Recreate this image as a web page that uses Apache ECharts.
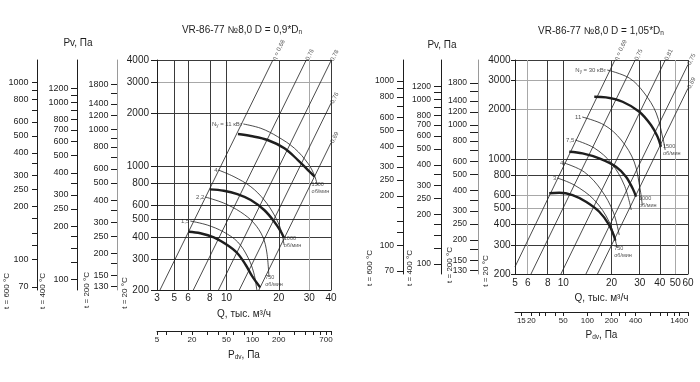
<!DOCTYPE html>
<html><head><meta charset="utf-8">
<script src="https://cdn.jsdelivr.net/npm/echarts@6/dist/echarts.min.js"></script>
<style>html,body{margin:0;padding:0;background:#fff}#c{width:700px;height:382px}</style>
</head><body><div id="c"></div>
<script>
// ---------------- shared scales ----------------
const pressureTicks = [200, 300, 400, 500, 600, 800, 1000, 2000, 3000, 4000];
const pv600Labels = [70, 100, 200, 250, 300, 400, 500, 600, 800, 1000];
const pv600Minor  = [120, 140, 170, 350, 700, 900];
const pv400Labels = [100, 200, 250, 300, 400, 500, 600, 700, 800, 1000, 1200];
const pv400Minor  = [125, 150, 175, 350, 900, 1100];
const pv200Labels = [130, 150, 200, 250, 300, 400, 500, 600, 800, 1000, 1200, 1400, 1800];
const pv200Minor  = [175, 350, 700, 900, 1600];
const densityRatio = [2.98, 2.30, 1.614];           // 600, 400, 200 °C vs 20 °C
const tempNames = ['t = 600 °C', 't = 400 °C', 't = 200 °C', 't = 20 °C'];

// ---------------- left chart: D = 0,9*Dn ----------------
const titleL = 'VR-86-77 №8,0 D = 0,9*D{s|n}';
const qEdgeL = 3.97;                                  // flow at the left border (printed "3")
const qTickPosL = [qEdgeL, 5, 6, 8, 10, 20, 30, 40];
const qLabelsL  = [3, 5, 6, 8, 10, 20, 30, 40];
const pdvEdgeL = 7.9, pdvMaxL = 800;
const pdvLabelPosL = [pdvEdgeL, 20, 50, 100, 200, 700];
const pdvLabelsL   = [5, 20, 50, 100, 200, 700];
const pdvMinorL    = [10, 15, 30, 40, 60, 80, 150, 300, 400, 500, 600];

const etaLabelsL = ['η = 0,68', '0,76', '0,78', '0,76', '0,69'];
const etaStartL  = [[4.13, 200], [6.43, 200], [8.98, 200], [11.84, 200], [15.35, 200]];
const etaEndL    = [[18.5, 4000], [28.8, 4000], [40, 3960], [40, 2280], [40, 1360]];

const rpm1500L = [[11.63,1525],[13.79,1486],[17.24,1411],[21.54,1266],[25.77,1087],[29.46,954],[32.18,875]];
const rpm1000L = [[8.0,742],[9.64,729],[11.54,698],[13.79,646],[16.48,567],[18.84,487],[20.6,427],[21.37,397]];
const rpm750L  = [[6.04,427],[7.06,419],[8.44,397],[10.09,359],[11.54,323],[12.9,277],[14.1,238],[15.62,207]];

const pow11L = [[12.5,1738],[15.77,1643],[19.71,1473],[24.62,1267],[29.46,1041],[32.05,894],[33.37,785]];
const pow4L  = [[8.98,954],[11.03,875],[13.79,768],[16.48,646],[18.84,531],[20.6,437],[21.45,359]];
const pow22L = [[7.55,671],[9.61,621],[12.06,552],[14.35,479],[16.19,399],[17.08,324],[17.55,237]];
const pow15L = [[6.18,491],[7.75,466],[9.61,426],[11.59,374],[13.25,307],[14.35,250],[14.94,200]];
const powNamesL = ['N{s|у} = 11 кВт', '4', '2,2', '1,5'];

// ---------------- right chart: D = 1,05*Dn ----------------
const titleR = 'VR-86-77 №8,0 D = 1,05*D{s|n}';
const qTickPosR = [5, 6, 8, 10, 20, 30, 40, 50, 60];
const qLabelsR  = [5, 6, 8, 10, 20, 30, 40, 50, 60];
const pdvMinR = 12.5, pdvMaxR = 1800;
const pdvLabelsR = [15, 20, 50, 100, 200, 400, 1400];
const pdvMinorR  = [25, 30, 40, 150, 250, 300, 600, 800, 1000, 1200];

const etaLabelsR = ['η = 0,69', '0,75', '0,81', '0,75', '0,69'];
const etaStartR  = [[5, 221], [6.29, 200], [9.67, 200], [13.85, 200], [16.35, 200]];
const etaEndR    = [[21.0, 4000], [28.1, 4000], [43.3, 4000], [60, 3755], [60, 2693]];

const rpm1500R = [[15.61,2392],[18.46,2372],[23.44,2230],[29.8,1939],[35.25,1610],[38.75,1367],[40.69,1188]];
const rpm1000R = [[10.9,1108],[13.19,1083],[16.77,1010],[21.32,898],[24.61,781],[27.06,664],[28.42,590]];
const rpm750R  = [[8.18,620],[9.44,624],[11.43,604],[13.86,550],[16.77,478],[19.36,397],[20.8,337],[21.1,319]];

const pow30R = [[18.81,3477],[25.8,3108],[32.0,2520],[38.0,1904],[42.06,1305],[43.2,1135]];
const pow11R = [[13.14,1801],[18.03,1610],[23.0,1305],[27.73,959],[30.22,648],[31.1,526]];
const pow75R = [[11.88,1305],[15.61,1167],[19.93,946],[24.02,695],[26.56,490]];
const pow4R  = [[10.14,946],[13.52,834],[17.26,648],[20.51,476],[22.35,345]];
const pow3R  = [[9.17,767],[11.71,695],[15.61,564],[19.36,414],[21.72,288]];
const powNamesR = ['N{s|у} = 30 кВт', '11', '7,5', '4', '3'];

const rpmNames = ['1500\nоб/мин', '1000\nоб/мин', '750\nоб/мин'];

// ---------------- build ----------------
const FONT = '"Liberation Sans", Arial, sans-serif';
const INK = '#1e1e1e';
const DK = '#3a3a3a', LT = '#a8a8a8';
const chart = echarts.init(document.getElementById('c'), null, {renderer: 'canvas'});

function nearest(v, positions, labels) {
  let best = 0, bd = Infinity;
  positions.forEach((p, i) => { const d = Math.abs(Math.log(v) - Math.log(p)); if (d < bd) { bd = d; best = i; } });
  return String(labels[best]);
}
const plain = v => String(Math.round(v));
const sub = {s: {fontSize: 6.5, padding: [4, 0, 0, 0], fontFamily: FONT, color: INK}};

function qAxis(grid, min, max, pos, labels, nameGap, margin, colors) {
  return {
    type: 'log', gridIndex: grid, min, max, position: 'bottom',
    axisLine: {show: true, onZero: false, lineStyle: {color: INK, width: 1}},
    axisTick: {show: false, customValues: pos},
    axisLabel: {customValues: pos, formatter: v => nearest(v, pos, labels), fontSize: 10, color: INK, margin, fontFamily: FONT},
    splitLine: {show: true, lineStyle: {color: colors, width: 1}},
    name: 'Q, тыс. м³/ч', nameLocation: 'middle', nameGap,
    nameTextStyle: {fontSize: 10, color: INK, fontFamily: FONT}
  };
}
function pdvAxis(grid, min, max, labelPos, labels, minor, offset, nameGap) {
  return {
    type: 'log', gridIndex: grid, min, max, position: 'bottom', offset,
    axisLine: {show: true, onZero: false, lineStyle: {color: INK, width: 1}},
    axisTick: {show: true, length: 4, customValues: labelPos.concat(minor).concat([max]), lineStyle: {color: INK}},
    axisLabel: {customValues: labelPos, formatter: v => nearest(v, labelPos, labels), fontSize: 8, color: INK, margin: 5, fontFamily: FONT},
    splitLine: {show: false},
    name: 'P{s|dv}, Па', nameLocation: 'middle', nameGap,
    nameTextStyle: {fontSize: 10, color: INK, fontFamily: FONT, rich: sub}
  };
}
function mainPAxis(grid, tick, margin, colors) {
  return {
    type: 'log', gridIndex: grid, min: 200, max: 4000, position: 'left',
    axisLine: {show: true, lineStyle: {color: INK, width: 1}},
    axisTick: {show: true, length: tick, customValues: pressureTicks, lineStyle: {color: INK}},
    axisLabel: {customValues: pressureTicks, formatter: plain, fontSize: 10, color: INK, margin, fontFamily: FONT},
    splitLine: {show: true, lineStyle: {color: colors, width: 1}}
  };
}
function pvAxis(grid, ratio, labels, minor, offset, color, tick, margin, fs) {
  return {
    type: 'log', gridIndex: grid, min: 200 / ratio, max: 4000 / ratio, position: 'left', offset,
    axisLine: {show: true, lineStyle: {color, width: 1}},
    axisTick: {show: true, length: tick, customValues: labels.concat(minor), lineStyle: {color: INK}},
    axisLabel: {customValues: labels, formatter: plain, fontSize: fs, color: INK, margin, fontFamily: FONT},
    splitLine: {show: false}
  };
}

const xAxis = [
  qAxis(0, qEdgeL, 40, qTickPosL, qLabelsL, 19, 3, [DK, DK, DK, DK, DK, DK, LT, DK]),
  pdvAxis(0, pdvEdgeL, pdvMaxL, pdvLabelPosL, pdvLabelsL, pdvMinorL, 41, 19),
  qAxis(1, 5, 60, qTickPosR, qLabelsR, 18, 4, [DK, LT, DK, DK, DK, DK, DK, LT, DK]),
  pdvAxis(1, pdvMinR, pdvMaxR, pdvLabelsR, pdvLabelsR, pdvMinorR, 38, 17)
];
const yAxis = [
  mainPAxis(0, 6, 8, [DK, DK, DK, DK, DK, DK, DK, DK, LT, DK]),
  pvAxis(0, densityRatio[0], pv600Labels, pv600Minor, 120, INK, 5, 8.5, 9),
  pvAxis(0, densityRatio[1], pv400Labels, pv400Minor, 80, INK, 6, 8.5, 9),
  pvAxis(0, densityRatio[2], pv200Labels, pv200Minor, 40, '#9a9a9a', 6, 8.5, 9),
  mainPAxis(1, 4, 4.5, [DK, DK, DK, LT, LT, DK, DK, LT, LT, DK]),
  pvAxis(1, densityRatio[0], pv600Labels, pv600Minor, 112, INK, 6, 9, 8.5),
  pvAxis(1, densityRatio[1], pv400Labels, pv400Minor, 74, INK, 7, 10, 8.5),
  pvAxis(1, densityRatio[2], pv200Labels, pv200Minor, 37, '#9a9a9a', 8, 11, 8.5)
];

const series = [];
function curve(data, xi, yi, width, smooth) {
  series.push({type: 'line', xAxisIndex: xi, yAxisIndex: yi, data, symbol: 'none', smooth,
    lineStyle: {color: INK, width}, silent: true, animation: false, z: width > 1 ? 4 : 3});
}
function labels(points, texts, xi, yi, opts) {
  series.push({type: 'scatter', xAxisIndex: xi, yAxisIndex: yi, symbolSize: 0, silent: true, animation: false, z: 5,
    data: points.map((p, i) => ({value: p, label: Object.assign({show: true, formatter: texts[i],
      fontSize: 6, color: INK, fontFamily: FONT, rich: {s: {fontSize: 4.5, padding: [3, 0, 0, 0], color: INK}}}, opts[i] || opts[0])}))});
}

function buildPanel(xi, yi, etaS, etaE, etaN, rpm, pows, powNames, rpmLabelOpts) {
  etaS.forEach((s, i) => curve([s, etaE[i]], xi, yi, 0.8, false));
  labels(etaE, etaN, xi, yi, [{position: 'right', distance: 1, rotate: 64, align: 'left', verticalAlign: 'middle'}]);
  pows.forEach(p => curve(p, xi, yi, 0.8, 0.35));
  labels(pows.map(p => p[0]), powNames, xi, yi, [{position: 'left', distance: 1}]);
  rpm.forEach(r => curve(r, xi, yi, 2.4, 0.35));
  labels(rpm.map(r => r[r.length - 1]), rpmNames, xi, yi, rpmLabelOpts);
}

const rl = {fontSize: 5.5, lineHeight: 7, align: 'left', verticalAlign: 'top'};
buildPanel(0, 0, etaStartL, etaEndL, etaLabelsL, [rpm1500L, rpm1000L, rpm750L],
  [pow11L, pow4L, pow22L, pow15L], powNamesL,
  [Object.assign({position: [-3, 4]}, rl), Object.assign({position: [0, -2]}, rl), Object.assign({position: [5, -13]}, rl)]);
buildPanel(2, 4, etaStartR, etaEndR, etaLabelsR, [rpm1500R, rpm1000R, rpm750R],
  [pow30R, pow11R, pow75R, pow4R, pow3R], powNamesR,
  [Object.assign({position: [2, -4]}, rl), Object.assign({position: [3, -2]}, rl), Object.assign({position: [-1, 4]}, rl)]);

function vText(x, y, text) {
  return {type: 'text', x, y, rotation: Math.PI / 2,
    style: {text, fontSize: 8, fill: INK, fontFamily: FONT, textAlign: 'center', textVerticalAlign: 'middle'}};
}
const graphic = [
  {type: 'text', x: 242, y: 30, style: {text: titleL, fontSize: 10, fill: INK, fontFamily: FONT, textAlign: 'center', textVerticalAlign: 'middle', rich: sub}},
  {type: 'text', x: 601, y: 31, style: {text: titleR, fontSize: 10, fill: INK, fontFamily: FONT, textAlign: 'center', textVerticalAlign: 'middle', rich: sub}},
  {type: 'text', x: 78, y: 43, style: {text: 'Pv, Па', fontSize: 10, fill: INK, fontFamily: FONT, textAlign: 'center', textVerticalAlign: 'middle'}},
  {type: 'text', x: 442, y: 45, style: {text: 'Pv, Па', fontSize: 10, fill: INK, fontFamily: FONT, textAlign: 'center', textVerticalAlign: 'middle'}},
  vText(7, 291, tempNames[0]), vText(43, 291, tempNames[1]), vText(87, 290, tempNames[2]), vText(125, 293, tempNames[3]),
  vText(370, 268, tempNames[0]), vText(410, 268, tempNames[1]), vText(450, 265, tempNames[2]), vText(486, 271, tempNames[3])
];

chart.setOption({
  animation: false,
  backgroundColor: '#fff',
  textStyle: {fontFamily: FONT},
  grid: [
    {left: 157, top: 60, width: 174, height: 230, containLabel: false},
    {left: 515, top: 60, width: 173, height: 214, containLabel: false}
  ],
  xAxis, yAxis, series, graphic
});
</script></body></html>
